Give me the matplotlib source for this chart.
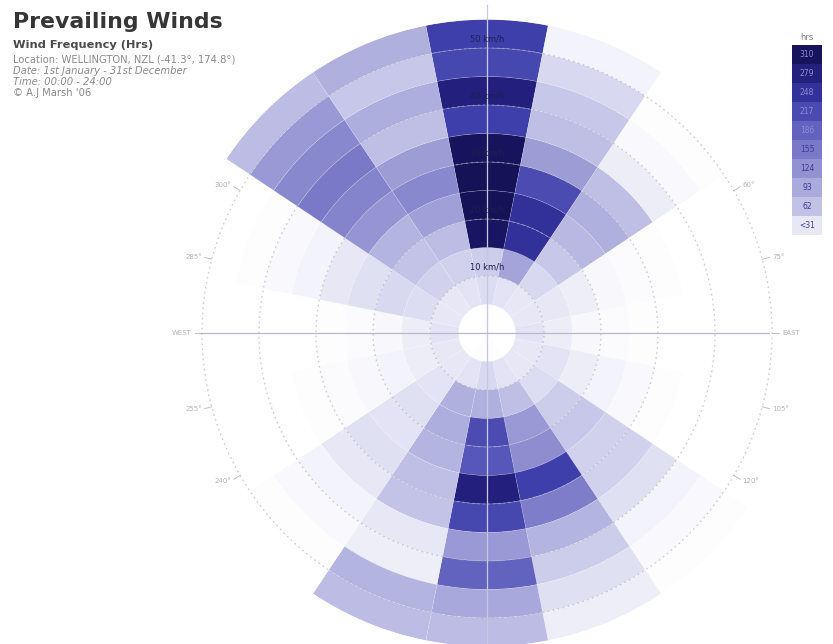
import numpy as np
import matplotlib
matplotlib.use("Agg")
import matplotlib.pyplot as plt
from matplotlib.colors import LinearSegmentedColormap, Normalize

# ---------------- data ----------------
directions = ["N", "NNE", "NE", "ENE", "E", "ESE", "SE", "SSE",
              "S", "SSW", "SW", "WSW", "W", "WNW", "NW", "NNW"]
speed_edges = [0, 5, 10, 15, 20, 25, 30, 35, 40, 45, 50, 55]   # km/h

# hours per speed bin (0-5, 5-10, ..., 50-55 km/h)
hrs_N   = [2, 22, 35, 290, 300, 300, 295, 215, 265, 205, 215]
hrs_NNE = [1, 18, 85, 235, 235, 200, 95, 50, 40, 25, 8]
hrs_NE  = [1, 15, 25, 40, 60, 70, 50, 12, 4, 2, 1]
hrs_ENE = [1, 15, 15, 10, 6, 3, 2, 1, 0, 0, 0]
hrs_E   = [1, 18, 12, 5, 3, 2, 1, 0, 0, 0, 0]
hrs_ESE = [1, 15, 18, 12, 8, 4, 2, 1, 0, 0, 0]
hrs_SE  = [1, 15, 22, 35, 40, 30, 30, 20, 8, 4, 2]
hrs_SSE = [2, 18, 50, 100, 115, 215, 135, 65, 35, 20, 10]
hrs_S   = [2, 25, 70, 200, 185, 265, 205, 100, 170, 80, 55]
hrs_SSW = [2, 18, 70, 75, 65, 50, 45, 15, 10, 65, 55]
hrs_SW  = [1, 15, 18, 20, 18, 20, 15, 8, 4, 2, 1]
hrs_WSW = [1, 15, 12, 8, 5, 3, 2, 1, 0, 0, 0]
hrs_W   = [1, 18, 12, 5, 3, 2, 1, 0, 0, 0, 0]
hrs_WNW = [1, 15, 22, 25, 20, 15, 8, 4, 2, 1, 0]
hrs_NW  = [1, 15, 30, 45, 65, 105, 125, 140, 120, 100, 55]
hrs_NNW = [1, 18, 30, 55, 90, 120, 95, 50, 75, 40, 70]

ring_speeds = [10, 20, 30, 40, 50]
ring_labels = ["10 km/h", "20 km/h", "30 km/h", "40 km/h", "50 km/h"]
legend_labels = ["<31", "62", "93", "124", "155", "186", "217", "248", "279", "310"]
legend_step = 31

title = "Prevailing Winds"
subtitle = "Wind Frequency (Hrs)"
info_lines = ["Location: WELLINGTON, NZL (-41.3\u00b0, 174.8\u00b0)",
              "Date: 1st January - 31st December",
              "Time: 00:00 - 24:00",
              "\u00a9 A.J Marsh '06"]

hours = [hrs_N, hrs_NNE, hrs_NE, hrs_ENE, hrs_E, hrs_ESE, hrs_SE, hrs_SSE,
         hrs_S, hrs_SSW, hrs_SW, hrs_WSW, hrs_W, hrs_WNW, hrs_NW, hrs_NNW]

# ---------------- colours ----------------
anchors = [(0, (255, 255, 255)), (10, (238, 238, 249)), (31, (206, 206, 236)),
           (62, (182, 182, 226)), (93, (158, 158, 215)), (124, (133, 133, 205)),
           (155, (110, 110, 196)), (186, (86, 86, 185)), (217, (62, 62, 170)),
           (248, (42, 40, 142)), (279, (28, 25, 110)), (310, (18, 15, 78))]
cmap = LinearSegmentedColormap.from_list(
    "wind", [(v / 310.0, tuple(c / 255.0 for c in col)) for v, col in anchors])
norm = Normalize(0, 310)

W_PX, H_PX = 833, 644
fig = plt.figure(figsize=(W_PX / 100, H_PX / 100), dpi=100)
fig.patch.set_facecolor("white")

cx, cy, R = 487, 333, 313.5
ax = fig.add_axes([(cx - R) / W_PX, (H_PX - cy - R) / H_PX, 2 * R / W_PX, 2 * R / H_PX],
                  projection="polar")
ax.set_theta_zero_location("N")
ax.set_theta_direction(-1)
ax.set_ylim(0, 55)
ax.set_xticks([])
ax.set_yticks([])
ax.grid(False)
ax.spines["polar"].set_visible(False)
ax.patch.set_alpha(0)

n_dir = len(directions)
width = 2 * np.pi / n_dir
for i, vals in enumerate(hours):
    th = i * width
    for j, v in enumerate(vals):
        if v <= 0:
            continue
        ax.bar(th, speed_edges[j + 1] - speed_edges[j], width=width,
               bottom=speed_edges[j], color=cmap(norm(min(v, 310))),
               edgecolor=(1, 1, 1, 0.25), linewidth=0.4, zorder=2)

# dotted speed rings
tt = np.linspace(0, 2 * np.pi, 400)
for r in ring_speeds:
    ax.plot(tt, np.full_like(tt, r), linestyle=(0, (1.2, 2.5)), color="#a8a8b0",
            lw=1.0, alpha=0.55, zorder=3)

# axis lines
ax.plot([0, 0], [0, 57.5], color="#c8c8dc", lw=0.9, zorder=3, clip_on=False)
ax.plot([np.pi, np.pi], [0, 55], color="#c8c8dc", lw=0.9, zorder=3)
ax.plot([np.pi / 2, np.pi / 2], [0, 49.5], color="#b8b8cc", lw=0.9, zorder=3)
ax.plot([3 * np.pi / 2, 3 * np.pi / 2], [0, 50.5], color="#b8b8cc", lw=0.9, zorder=3)

# bearing labels and ticks (drawn beneath the cells)
names = {90: "EAST", 270: "WEST"}
for deg in range(15, 360, 15):
    if deg == 180:
        continue
    th = np.deg2rad(deg)
    ax.plot([th, th], [50, 51.3], color="#c0c0c0", lw=0.7, zorder=1)
    lab = names.get(deg, f"{deg}\u00b0")
    s = np.sin(th)
    ha = "center" if abs(s) < 0.2 else ("left" if s > 0 else "right")
    ax.text(th, 51.8, lab, ha=ha, va="center", fontsize=5, color="#b4b4b4",
            zorder=1)

# speed labels on the north axis
for r, lab in zip(ring_speeds, ring_labels):
    ax.text(0, r + 1.6, lab, ha="center", va="center", fontsize=6,
            color="#1e1e55", zorder=4)

# ---------------- legend bar ----------------
bx0, by_top, bw, bh = 792, 45, 30, 190
lax = fig.add_axes([bx0 / W_PX, (H_PX - by_top - bh) / H_PX, bw / W_PX, bh / H_PX])
lax.set_xlim(0, 1)
lax.set_ylim(0, len(legend_labels))
lax.axis("off")
for k, lab in enumerate(legend_labels):
    v = legend_step * k + legend_step / 2
    lax.add_patch(plt.Rectangle((0, k), 1, 1, color=cmap(norm(v)), lw=0))
    tc = "#3c3c96" if k < 5 else "#8c8cd2"
    lax.text(0.5, k + 0.5, lab, ha="center", va="center", fontsize=5.5, color=tc)
fig.text((bx0 + bw / 2) / W_PX, 1 - 37 / H_PX, "hrs", ha="center", va="center",
         fontsize=6, color="#808080")

# ---------------- titles ----------------
fig.text(13 / W_PX, 1 - 28 / H_PX, title, ha="left", va="baseline",
         fontsize=15.8, fontweight="bold", color="#363636")
fig.text(13 / W_PX, 1 - 48 / H_PX, subtitle, ha="left", va="baseline",
         fontsize=8.2, fontweight="bold", color="#4a4a4a")
ys = [62, 73.5, 85, 96.5]
styles = ["normal", "italic", "italic", "normal"]
for y, line, st in zip(ys, info_lines, styles):
    fig.text(13 / W_PX, 1 - y / H_PX, line, ha="left", va="baseline",
             fontsize=7.2, style=st, color="#8a8a8a")

fig.savefig("out.png", dpi=100, facecolor="white")
